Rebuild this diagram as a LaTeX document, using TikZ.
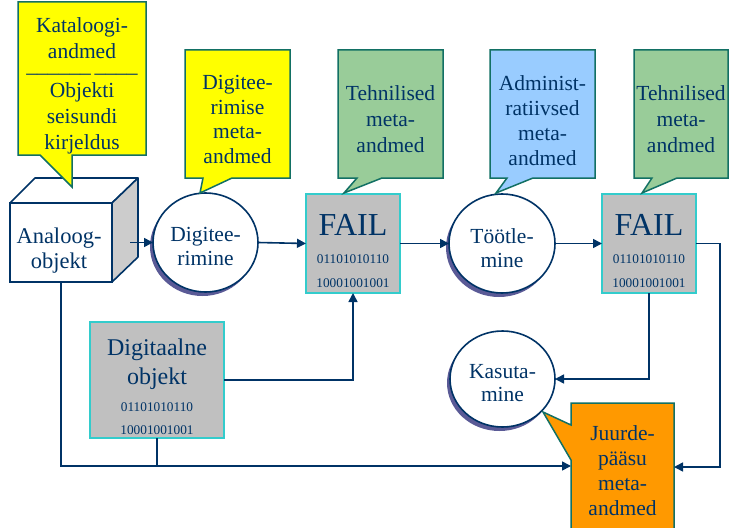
\documentclass[tikz,border=0pt]{standalone}
\usepackage{fontspec}
\setmainfont{Liberation Serif}
\usetikzlibrary{shapes.geometric,shadows,arrows.meta}

\definecolor{navy}{RGB}{0,51,102}
\definecolor{calborder}{RGB}{18,112,100}
\definecolor{calyellow}{RGB}{255,255,0}
\definecolor{calgreen}{RGB}{153,204,153}
\definecolor{calblue}{RGB}{153,204,255}
\definecolor{calorange}{RGB}{255,153,0}
\definecolor{filegray}{RGB}{192,192,192}
\definecolor{filecyan}{RGB}{51,204,204}
\definecolor{shadowc}{RGB}{90,90,150}

\tikzset{
  callbox/.style={draw=calborder, line width=1.5pt, line join=miter},
  caltext/.style={text=navy, align=center, inner sep=0pt, anchor=north, font=\fontsize{21.5}{26}\selectfont},
  circ/.style={ellipse, draw=navy, line width=1.6pt, fill=white, inner sep=0pt, outer sep=0pt,
    drop shadow={shadow xshift=-3pt, shadow yshift=-4pt, fill=shadowc, opacity=1}},
  filebox/.style={rectangle, draw=filecyan, fill=filegray, line width=1.5pt, inner sep=0pt, outer sep=0pt},
  filetext/.style={text=navy, align=center, inner sep=0pt, anchor=north, font=\fontsize{13.3}{24}\selectfont},
  link/.style={draw=navy, line width=1.6pt, -{Triangle[length=9pt,width=9pt]}},
  wire/.style={draw=navy, line width=1.6pt},
}

\begin{document}
\begin{tikzpicture}[x=1pt,y=-1pt]
\useasboundingbox (0,0) rectangle (730,527);

% analoog objekt (cube)
\node[draw=navy, line width=1.6pt, fill=white, inner sep=0pt, outer sep=0pt,
  minimum width=102pt, minimum height=79pt] (ana) at (61,242.5) {};
\filldraw[draw=navy, fill=white, line width=1.6pt, line join=round]
  (ana.north west) -- ++(25,-25) -- ++(103,0) -- (ana.north east) -- cycle;
\filldraw[draw=navy, fill=gray!40, line width=1.6pt, line join=round]
  (ana.north east) -- ++(26,-25) -- ++(0,79) -- (ana.south east) -- cycle;
\node[caltext, font=\fontsize{22.5}{25}\selectfont] (anatxt) at (59,228) {Analoog-\\objekt};

% processes
\node[circ, minimum width=105pt, minimum height=99pt] (dig) at (205.5,242.5) {};
\node[caltext, font=\fontsize{21.5}{24}\selectfont] (digtxt) at (205.5,227) {Digitee-\\rimine};
\node[circ, minimum width=106pt, minimum height=99pt] (toot) at (502,243.5) {};
\node[caltext, font=\fontsize{21.5}{24}\selectfont] (toottxt) at (502,228) {Töötle-\\mine};
\node[circ, minimum width=105pt, minimum height=96pt] (kasut) at (502.5,379) {};
\node[caltext, font=\fontsize{21.5}{23.5}\selectfont] (kasuttxt) at (502.5,364) {Kasuta-\\mine};

% files
\node[filebox, minimum width=94pt, minimum height=99pt] (fail1) at (353,243.5) {};
\node[filetext] (fail1txt) at (353,214) {{\fontsize{32}{32}\selectfont FAIL}\\[4pt]01101010110\\10001001001};
\node[filebox, minimum width=94pt, minimum height=99pt] (fail2) at (649,243.5) {};
\node[filetext] (fail2txt) at (649,214) {{\fontsize{32}{32}\selectfont FAIL}\\[4pt]01101010110\\10001001001};
\node[filebox, minimum width=134pt, minimum height=116pt] (digobj) at (157,380) {};
\node[filetext, font=\fontsize{13.3}{23}\selectfont] (digobjtxt) at (157,338.6)
  {{\fontsize{24}{24}\selectfont Digitaalne}\\[6pt]{\fontsize{24}{24}\selectfont objekt}\\[4pt]01101010110\\10001001001};

% juurdepaasu metaandmed
\filldraw[callbox, fill=calorange] (571,403) -- (674,403) -- (674,540) -- (571,540) -- (571,460)
  -- (543,412) -- (571,425) -- cycle;
\node[caltext, font=\fontsize{21.5}{25}\selectfont] (juur) at (622.5,425) {Juurde-\\pääsu\\meta-\\andmed};
\coordinate (juurL) at (571,466);
\coordinate (juurR) at (674,467);

% arrows
\draw[link] ([xshift=18pt]ana.east) -- (dig.west);
\draw[link] (dig.east) -- (fail1.west);
\draw[link] (fail1.east) -- (toot.west);
\draw[link] (toot.east) -- (fail2.west);
\draw[link] (fail2.east) -- ++(24,0) |- (juurR);
\draw[link] (fail2.south) |- (kasut.east);
\draw[link] (ana.south) |- (juurL);
\draw[wire] (digobj.south) -- (digobj.south |- juurL);
\draw[link] (digobj.east) -| (fail1.south);

% metadata callouts
\filldraw[callbox, fill=calyellow] (18,2) -- (146,2) -- (146,155) -- (72,155) -- (72,187)
  -- (40,155) -- (18,155) -- cycle;
\node[caltext] (katal) at (82,17.3)
  {Kataloogi-\\andmed\\[-12pt]\_\_\_\_\_\_\,\_\_\_\_\\[-1pt]Objekti\\seisundi\\kirjeldus};
\filldraw[callbox, fill=calyellow] (185,50) -- (290,50) -- (290,178) -- (232,178) -- (200,193)
  -- (203,178) -- (185,178) -- cycle;
\node[caltext, font=\fontsize{21.5}{24.5}\selectfont] (digmeta) at (237.5,75.3) {Digitee-\\rimise\\meta-\\andmed};
\filldraw[callbox, fill=calgreen] (338,50) -- (443,50) -- (443,178) -- (382,178) -- (344,193)
  -- (357,178) -- (338,178) -- cycle;
\node[caltext] (tehn1) at (390.5,85.3) {Tehnilised\\meta-\\andmed};
\filldraw[callbox, fill=calblue] (490,50) -- (595,50) -- (595,178) -- (533,178) -- (496,193)
  -- (507,178) -- (490,178) -- cycle;
\node[caltext, font=\fontsize{21.5}{25}\selectfont] (admin) at (542.5,75) {Administ-\\ratiivsed\\meta-\\andmed};
\filldraw[callbox, fill=calgreen] (634,50) -- (728,50) -- (728,178) -- (677,178) -- (642,193)
  -- (652,178) -- (634,178) -- cycle;
\node[caltext] (tehn2) at (681,85.3) {Tehnilised\\meta-\\andmed};
\end{tikzpicture}
\end{document}
